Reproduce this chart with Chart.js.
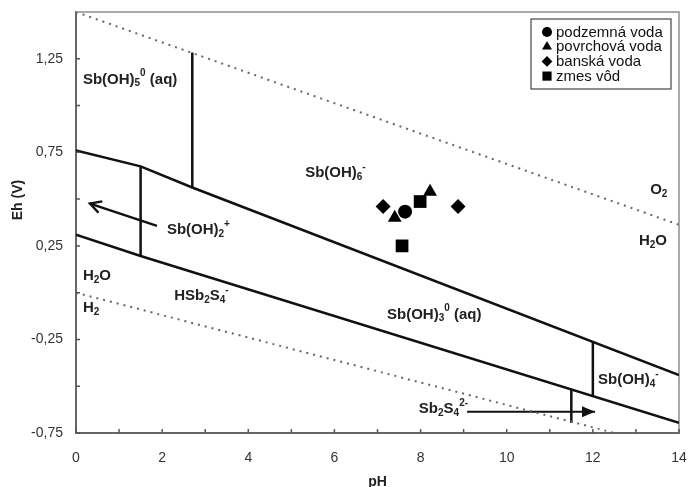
<!DOCTYPE html>
<html>
<head>
<meta charset="utf-8">
<script src="https://cdn.jsdelivr.net/npm/chart.js@4/dist/chart.umd.min.js"></script>
<style>
  html, body { margin: 0; padding: 0; background: #fff; }
  canvas { display: block; }
</style>
</head>
<body>
<canvas id="chart" width="688" height="487"></canvas>
<script>
// axis labels
const phTickLabels = [0, 2, 4, 6, 8, 10, 12, 14];
const ehTickLabels = [-0.75, -0.25, 0.25, 0.75, 1.25];

// water stability limits (dotted)
const o2LinePh = [0, 14];
const o2LineEh = [1.5, 0.363];
const h2LinePh = [0, 14];
const h2LineEh = [0, -0.84];

// field boundaries
const upperPh = [0, 1.5, 2.7, 14];
const upperEh = [0.76, 0.675, 0.562, -0.44];
const lowerPh = [0, 1.5, 14];
const lowerEh = [0.31, 0.196, -0.696];
const vert1Ph = [1.5, 1.5];
const vert1Eh = [0.675, 0.196];
const vert2Ph = [2.7, 2.7];
const vert2Eh = [1.283, 0.562];
const vert3Ph = [12, 12];
const vert3Eh = [-0.263, -0.553];
const vert4Ph = [11.5, 11.5];
const vert4Eh = [-0.518, -0.696];

// arrows (tail -> head)
const arrow1Ph = [1.88, 0.325];
const arrow1Eh = [0.357, 0.476];
const arrow2Ph = [9.08, 12.05];
const arrow2Eh = [-0.637, -0.637];

// samples
const seriesNames = ['podzemná voda', 'povrchová voda', 'banská voda', 'zmes vôd'];
const podzemnaPh = [7.64];
const podzemnaEh = [0.433];
const povrchovaPh = [7.40, 8.22];
const povrchovaEh = [0.40, 0.54];
const banskaPh = [7.13, 8.87];
const banskaEh = [0.46, 0.46];
const zmesPh = [7.99, 7.57];
const zmesEh = [0.487, 0.25];

// species labels, _{} subscript, ^{} superscript
const labelTexts = ['Sb(OH)_{5}^{0} (aq)', 'Sb(OH)_{6}^{-}', 'Sb(OH)_{2}^{+}', 'H_{2}O', 'H_{2}',
  'HSb_{2}S_{4}^{-}', 'Sb(OH)_{3}^{0} (aq)', 'Sb(OH)_{4}^{-}', 'Sb_{2}S_{4}^{2-}', 'O_{2}', 'H_{2}O'];
const labelPh = [0.16, 5.32, 2.11, 0.16, 0.16, 2.28, 7.22, 12.12, 7.96, 13.33, 13.07];
const labelEh = [1.14, 0.638, 0.336, 0.089, -0.083, -0.019, -0.116, -0.465, -0.621, 0.551, 0.277];

const FONT = '"Liberation Sans", Arial, sans-serif';

const pts = (xs, ys) => xs.map((x, i) => ({ x: x, y: ys[i] }));

const solid = (xs, ys) => ({
  type: 'line', data: pts(xs, ys), borderColor: '#111', borderWidth: 2.5,
  pointRadius: 0, fill: false, tension: 0
});
const dotted = (xs, ys) => ({
  type: 'line', data: pts(xs, ys), borderColor: '#666', borderWidth: 2,
  borderDash: [2, 5], pointRadius: 0, fill: false, tension: 0
});
const marker = (name, xs, ys, style, r) => ({
  type: 'scatter', label: name, data: pts(xs, ys), pointStyle: style, pointRadius: r,
  backgroundColor: '#000', borderColor: '#000', borderWidth: 0, showLine: false
});

const datasets = [
  dotted(o2LinePh, o2LineEh),
  dotted(h2LinePh, h2LineEh),
  solid(upperPh, upperEh),
  solid(lowerPh, lowerEh),
  solid(vert1Ph, vert1Eh),
  solid(vert2Ph, vert2Eh),
  solid(vert3Ph, vert3Eh),
  solid(vert4Ph, vert4Eh),
  Object.assign(solid(arrow1Ph, arrow1Eh), { arrow: 'open' }),
  Object.assign(solid(arrow2Ph, arrow2Eh), { arrow: 'filled', borderWidth: 2 }),
  marker(seriesNames[0], podzemnaPh, podzemnaEh, 'circle', 7),
  marker(seriesNames[1], povrchovaPh, povrchovaEh, 'triangle', 8),
  marker(seriesNames[2], banskaPh, banskaEh, 'rectRot', 7.5),
  marker(seriesNames[3], zmesPh, zmesEh, 'rect', 9)
];

function drawRich(ctx, text, x, y, size) {
  const parts = [];
  const re = /([_^])\{([^}]*)\}|([^_^]+)/g;
  let m;
  while ((m = re.exec(text))) {
    if (m[3]) parts.push({ t: m[3], k: 'n' });
    else parts.push({ t: m[2], k: m[1] === '_' ? 'sub' : 'sup' });
  }
  ctx.textBaseline = 'middle';
  ctx.textAlign = 'left';
  let cx = x;
  parts.forEach(p => {
    const s = p.k === 'n' ? size : Math.round(size * 0.65);
    const dy = p.k === 'sub' ? size * 0.28 : p.k === 'sup' ? -size * 0.38 : 0;
    ctx.font = 'bold ' + s + 'px ' + FONT;
    ctx.fillText(p.t, cx, y + dy);
    cx += ctx.measureText(p.t).width;
  });
}

const decor = {
  id: 'decor',
  beforeDatasetsDraw(chart) {
    const { ctx, chartArea: a } = chart;
    ctx.save();
    // light frame top/right
    ctx.strokeStyle = '#aaa';
    ctx.lineWidth = 2;
    ctx.beginPath();
    ctx.moveTo(a.left, a.top);
    ctx.lineTo(a.right, a.top);
    ctx.lineTo(a.right, a.bottom);
    ctx.stroke();
    ctx.restore();
  },
  afterDatasetsDraw(chart) {
    const { ctx, chartArea: a, scales: { x, y } } = chart;
    ctx.save();
    // inward tick marks
    ctx.strokeStyle = '#555';
    ctx.lineWidth = 1.5;
    ctx.beginPath();
    x.ticks.forEach(t => {
      const px = x.getPixelForValue(t.value);
      ctx.moveTo(px, a.bottom);
      ctx.lineTo(px, a.bottom - 4);
    });
    y.ticks.forEach(t => {
      if (t.value >= 1.5) return;
      const py = y.getPixelForValue(t.value);
      ctx.moveTo(a.left, py);
      ctx.lineTo(a.left + 4, py);
    });
    ctx.stroke();

    // arrowheads
    chart.data.datasets.forEach(ds => {
      if (!ds.arrow) return;
      const p0 = ds.data[ds.data.length - 2], p1 = ds.data[ds.data.length - 1];
      const x0 = x.getPixelForValue(p0.x), y0 = y.getPixelForValue(p0.y);
      const x1 = x.getPixelForValue(p1.x), y1 = y.getPixelForValue(p1.y);
      const ang = Math.atan2(y1 - y0, x1 - x0);
      ctx.save();
      ctx.translate(x1, y1);
      ctx.rotate(ang);
      ctx.fillStyle = '#111';
      ctx.strokeStyle = '#111';
      ctx.beginPath();
      if (ds.arrow === 'open') {
        ctx.lineWidth = 2.5;
        ctx.moveTo(-11, -6);
        ctx.lineTo(0, 0);
        ctx.lineTo(-11, 6);
        ctx.stroke();
      } else {
        ctx.moveTo(0, 0);
        ctx.lineTo(-13, -5.5);
        ctx.lineTo(-13, 5.5);
        ctx.closePath();
        ctx.fill();
      }
      ctx.restore();
    });

    // species labels
    ctx.fillStyle = '#222';
    labelTexts.forEach((t, i) => {
      drawRich(ctx, t, x.getPixelForValue(labelPh[i]), y.getPixelForValue(labelEh[i]), 15);
    });

    // legend box
    const bx = a.right - 148, by = a.top + 7, bw = 140, bh = 70;
    ctx.fillStyle = '#fff';
    ctx.fillRect(bx, by, bw, bh);
    ctx.strokeStyle = '#444';
    ctx.lineWidth = 1.2;
    ctx.strokeRect(bx, by, bw, bh);
    ctx.font = '15px ' + FONT;
    ctx.textBaseline = 'middle';
    ctx.textAlign = 'left';
    chart.data.datasets.filter(ds => ds.label).forEach((ds, i) => {
      const ry = by + 13 + i * 14.7;
      ctx.fillStyle = '#000';
      Chart.helpers.drawPoint(ctx, {
        pointStyle: ds.pointStyle, radius: ds.pointRadius * 0.72, borderWidth: 0
      }, bx + 16, ry);
      ctx.fillStyle = '#111';
      ctx.fillText(ds.label, bx + 25, ry + 0.5);
    });

    // y title
    ctx.translate(18, 200);
    ctx.rotate(-Math.PI / 2);
    ctx.font = 'bold 14px ' + FONT;
    ctx.fillStyle = '#222';
    ctx.textAlign = 'center';
    ctx.fillText('Eh (V)', 0, 0);
    ctx.restore();
  }
};

// keep the plot box where the reference has it, ignore label overhang
const fixPad = s => { s.paddingTop = 0; s.paddingBottom = 0; s.paddingLeft = 0; s.paddingRight = 0; };

new Chart(document.getElementById('chart'), {
  type: 'scatter',
  data: { datasets: datasets },
  options: {
    responsive: false,
    animation: false,
    layout: { padding: { top: 12, right: 9, left: 0, bottom: 0 } },
    plugins: { legend: { display: false }, tooltip: { enabled: false } },
    scales: {
      x: {
        type: 'linear', min: 0, max: 14,
        afterFit: s => { s.height = 54; fixPad(s); },
        grid: { display: false, drawTicks: false },
        border: { display: true, color: '#666', width: 2 },
        ticks: {
          stepSize: 1, padding: 17, color: '#333', maxRotation: 0, autoSkip: false,
          font: { family: FONT, size: 14 },
          callback: v => phTickLabels.includes(v) ? String(v) : ''
        },
        title: {
          display: true, text: 'pH', color: '#222',
          font: { family: FONT, size: 14, weight: 'bold' },
          padding: { top: 0, bottom: -4 }
        }
      },
      y: {
        type: 'linear', min: -0.75, max: 1.5,
        afterFit: s => { s.width = 76; fixPad(s); },
        grid: { display: false, drawTicks: false },
        border: { display: true, color: '#666', width: 2 },
        ticks: {
          stepSize: 0.25, padding: 13, color: '#333', autoSkip: false,
          font: { family: FONT, size: 14 },
          callback: v => ehTickLabels.some(t => Math.abs(t - v) < 1e-6) ? v.toFixed(2).replace('.', ',') : ''
        }
      }
    }
  },
  plugins: [decor]
});
</script>
</body>
</html>
